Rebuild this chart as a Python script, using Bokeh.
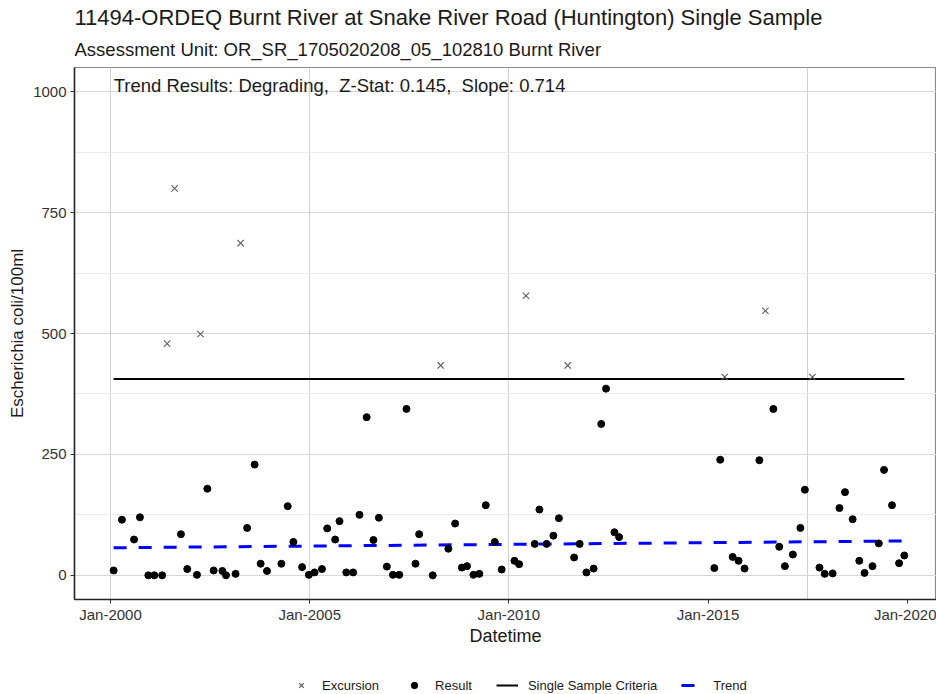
import pandas as pd
from bokeh.plotting import figure
from bokeh.layouts import column
from bokeh.models import (ColumnDataSource, Range1d, FixedTicker, DatetimeTickFormatter,
                          Title, Legend, LegendItem, Label)
from bokeh.embed import file_html
from bokeh.resources import INLINE

# ---------------- data ----------------
title_text = "11494-ORDEQ Burnt River at Snake River Road (Huntington) Single Sample"
subtitle_text = "Assessment Unit: OR_SR_1705020208_05_102810 Burnt River"
trend_text = "Trend Results: Degrading,\u00a0 Z-Stat: 0.145,\u00a0 Slope: 0.714"

result_dates = [
    "2000-01-30", "2000-04-15", "2000-08-04", "2000-09-27", "2000-12-13",
    "2001-02-06", "2001-04-19", "2001-10-08", "2001-12-05", "2002-03-04",
    "2002-06-07", "2002-08-04", "2002-10-23", "2002-11-25", "2003-02-21",
    "2003-06-07", "2003-08-15", "2003-10-09", "2003-12-06", "2004-04-16",
    "2004-06-13", "2004-08-04", "2004-10-23", "2004-12-24", "2005-02-14",
    "2005-04-23", "2005-06-10", "2005-08-22", "2005-10-01", "2005-12-02",
    "2006-02-03", "2006-04-02", "2006-06-07", "2006-08-08", "2006-09-27",
    "2006-12-09", "2007-02-03", "2007-04-02", "2007-06-07", "2007-08-29",
    "2007-10-01", "2008-02-03", "2008-06-25", "2008-08-26", "2008-10-27",
    "2008-12-13", "2009-02-10", "2009-04-05", "2009-06-03", "2009-08-25",
    "2009-10-27", "2010-02-21", "2010-04-05", "2010-08-26", "2010-10-08",
    "2010-12-13", "2011-02-13", "2011-04-05", "2011-08-22", "2011-10-12",
    "2011-12-13", "2012-02-17", "2012-04-27", "2012-06-10", "2012-08-26",
    "2012-10-08", "2015-02-28", "2015-04-23", "2015-08-15", "2015-10-08",
    "2015-12-02", "2016-04-16", "2016-08-22", "2016-10-15", "2016-12-06",
    "2017-02-17", "2017-04-27", "2017-06-07", "2017-10-19", "2017-12-06",
    "2018-02-17", "2018-04-20", "2018-06-10", "2018-08-19", "2018-10-19",
    "2018-12-06", "2019-02-17", "2019-04-16", "2019-06-03", "2019-08-15",
    "2019-10-19", "2019-12-06",
]
result_values = [
    10, 115, 74, 120, 0,
    0, 0, 85, 13, 1,
    179, 10, 9, 0, 3,
    98, 229, 24, 9, 24,
    143, 69, 17, 1, 6,
    13, 97, 74, 112, 6,
    6, 125, 327, 73, 119,
    18, 1, 1, 344, 24,
    85, 0, 55, 107, 16,
    19, 1, 3, 145, 69,
    12, 30, 23, 65, 136,
    65, 82, 118, 37, 65,
    6, 14, 313, 386, 89,
    79, 15, 239, 38, 30,
    14, 238, 344, 59, 19,
    43, 98, 177, 16, 3,
    4, 139, 172, 116, 30,
    5, 19, 66, 218, 145,
    25, 41,
]

excursion_dates = [
    "2001-06-03", "2001-08-11", "2002-04-05", "2003-04-08", "2008-04-16",
    "2010-06-07", "2011-06-25", "2015-06-03", "2016-06-10", "2017-08-15",
]
excursion_values = [479, 800, 499, 687, 434, 578, 434, 410, 547, 410]

criteria_value = 406
trend_values = [57, 71]
legend_labels = ["Excursion", "Result", "Single Sample Criteria", "Trend"]

y_ticks = [0, 250, 500, 750, 1000]
y_minor_ticks = [125, 375, 625, 875]
x_tick_dates = ["2000-01-01", "2005-01-01", "2010-01-01", "2015-01-01", "2020-01-01"]
x_grid_dates = ["2000-01-01", "2005-01-01", "2010-01-01", "2017-07-02"]
x_limits = ["1999-02-05", "2020-09-26"]
y_limits = [-50, 1050]


def to_ms(dates):
    return [int(v) // 10**6 for v in pd.to_datetime(dates).astype("int64")]


FONT = "Liberation Sans"

# styles shared by plot glyphs and legend glyphs
EXC_STYLE = dict(marker="x", size=9, line_color="#5f5f5f", line_width=1.1)
RES_STYLE = dict(marker="circle", size=7, fill_color="black", line_color="black")
CRIT_STYLE = dict(line_color="black", line_width=2)
TREND_STYLE = dict(line_color="#0000ff", line_width=3, line_dash="13 12")

res_src = ColumnDataSource(dict(x=pd.to_datetime(result_dates), y=result_values))
exc_src = ColumnDataSource(dict(x=pd.to_datetime(excursion_dates), y=excursion_values))
first_last = pd.to_datetime([result_dates[0], result_dates[-1]])
crit_src = ColumnDataSource(dict(x=first_last, y=[criteria_value, criteria_value]))
trend_src = ColumnDataSource(dict(x=first_last, y=trend_values))

xl = to_ms(x_limits)
p = figure(width=936, height=676, x_axis_type="datetime",
           x_range=Range1d(xl[0], xl[1]), y_range=Range1d(*y_limits),
           output_backend="svg", toolbar_location=None, title=None,
           min_border_left=74, min_border_right=0, min_border_top=67,
           min_border_bottom=77, background_fill_color="white",
           border_fill_color="white")

p.outline_line_color = "#8a8a8a"
p.outline_line_width = 1.2

# grids
p.ygrid.ticker = FixedTicker(ticks=y_ticks, minor_ticks=y_minor_ticks)
p.ygrid.grid_line_color = "#d6d6d6"
p.ygrid.grid_line_width = 1
p.ygrid.minor_grid_line_color = "#ececec"
p.ygrid.minor_grid_line_width = 1
p.xgrid.ticker = FixedTicker(ticks=to_ms(x_grid_dates))
p.xgrid.grid_line_color = "#d2d2d2"
p.xgrid.grid_line_width = 1

# glyphs
p.line("x", "y", source=crit_src, **CRIT_STYLE)
p.line("x", "y", source=trend_src, **TREND_STYLE)
p.scatter("x", "y", source=res_src, **RES_STYLE)
p.scatter("x", "y", source=exc_src, **EXC_STYLE)

# annotation
p.add_layout(Label(x=to_ms([result_dates[0]])[0], y=1012, text=trend_text,
                   text_font=FONT, text_font_size="18.5px", text_color="#1a1a1a",
                   text_baseline="middle", text_align="left"))

# axes
for ax in (p.xaxis[0], p.yaxis[0]):
    ax.axis_line_color = "#222222"
    ax.axis_line_width = 1.5
    ax.major_tick_line_color = "#333333"
    ax.major_tick_out = 4
    ax.major_tick_in = 0
    ax.minor_tick_out = 0
    ax.minor_tick_in = 0
    ax.major_label_text_font = FONT
    ax.major_label_text_font_size = "15px"
    ax.major_label_text_color = "#333333"
    ax.axis_label_text_font = FONT
    ax.axis_label_text_font_style = "normal"
    ax.axis_label_text_color = "#1a1a1a"

p.xaxis.ticker = FixedTicker(ticks=to_ms(x_tick_dates))
p.xaxis.formatter = DatetimeTickFormatter(
    years="%b-%Y", months="%b-%Y", days="%b-%Y", hours="%b-%Y",
    hourmin="%b-%Y", minutes="%b-%Y", minsec="%b-%Y", seconds="%b-%Y",
    milliseconds="%b-%Y", microseconds="%b-%Y", context=None)
p.xaxis.major_label_standoff = 2
p.xaxis.axis_label = "Datetime"
p.xaxis.axis_label_text_font_size = "18px"
p.xaxis.axis_label_standoff = 0

p.yaxis.ticker = FixedTicker(ticks=y_ticks)
p.yaxis.major_label_standoff = 4
p.yaxis.axis_label = "Escherichia coli/100ml"
p.yaxis.axis_label_text_font_size = "17px"
p.yaxis.axis_label_standoff = 3

# titles
sub = Title(text=subtitle_text, text_font=FONT, text_font_size="18.5px",
            text_font_style="normal", text_color="#1a1a1a", standoff=15, align="left")
main = Title(text=title_text, text_font=FONT, text_font_size="22px",
             text_font_style="normal", text_color="#1a1a1a", standoff=0, align="left")
p.add_layout(sub, "above")
p.add_layout(main, "above")

# ---------------- legend strip below the plot ----------------
# The strip reuses the plot's sources; its 0..1 ranges keep the marks out of view,
# so only the legend glyphs are drawn.
lg = figure(width=936, height=18, x_range=Range1d(0, 1), y_range=Range1d(0, 1),
            output_backend="svg", toolbar_location=None, title=None,
            x_axis_location=None, y_axis_location=None,
            min_border=0, outline_line_color=None,
            background_fill_color="white", border_fill_color="white")
lg.grid.visible = False
l_exc = lg.scatter("x", "y", source=exc_src, **EXC_STYLE)
l_res = lg.scatter("x", "y", source=res_src, **RES_STYLE)
l_crit = lg.line("x", "y", source=crit_src, **CRIT_STYLE)
l_trend = lg.line("x", "y", source=trend_src, **TREND_STYLE)

legend = Legend(items=[
    LegendItem(label=legend_labels[0], renderers=[l_exc]),
    LegendItem(label=legend_labels[1], renderers=[l_res]),
    LegendItem(label=legend_labels[2], renderers=[l_crit]),
    LegendItem(label=legend_labels[3], renderers=[l_trend]),
], orientation="horizontal", location=(216, 1), border_line_color=None,
    background_fill_alpha=0, label_text_font=FONT, label_text_font_size="13px",
    label_text_color="#1a1a1a", glyph_width=22, glyph_height=16,
    label_standoff=10, spacing=24, padding=0, margin=0)
lg.add_layout(legend, "center")

open("out.html", "w").write(file_html(column(p, lg, spacing=0), INLINE))
